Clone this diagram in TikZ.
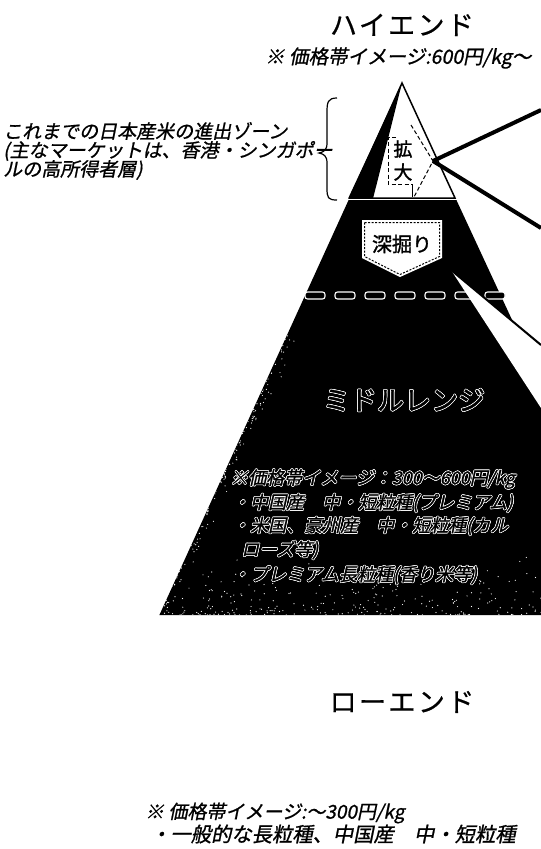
\documentclass[tikz,border=0pt]{standalone}
\usepackage{fontspec}
\setmainfont{Noto Sans CJK JP}
\newfontfamily\jp{Noto Sans CJK JP}
\newfontfamily\jpt[LetterSpace=9,FakeBold=0.6]{Noto Sans CJK JP}
\newfontfamily\jpit[FakeSlant=0.2,FakeBold=1.0]{Noto Sans CJK JP}
\newfontfamily\jpbi[FakeSlant=0.22,FakeBold=1.4]{Noto Sans CJK JP}
\newfontfamily\jpb[FakeBold=1.4]{Noto Sans CJK JP}
\newcommand\olx[1]{%
 \makebox[0pt][l]{\color{white}\raisebox{0.7pt}{#1}}%
 \makebox[0pt][l]{\color{white}\raisebox{-0.7pt}{#1}}%
 \makebox[0pt][l]{\color{white}\hspace*{0.7pt}#1}%
 \makebox[0pt][l]{\color{white}\hspace*{-0.7pt}#1}%
 \makebox[0pt][l]{\color{white}\hspace*{0.5pt}\raisebox{0.5pt}{#1}}%
 \makebox[0pt][l]{\color{white}\hspace*{-0.5pt}\raisebox{0.5pt}{#1}}%
 \makebox[0pt][l]{\color{white}\hspace*{0.5pt}\raisebox{-0.5pt}{#1}}%
 \makebox[0pt][l]{\color{white}\hspace*{-0.5pt}\raisebox{-0.5pt}{#1}}%
 {\color{black}#1}}
\tikzset{
 title/.style={font=\jpt\fontsize{27}{27}\selectfont, inner sep=0pt},
 note/.style={font=\jpit\fontsize{19}{19}\selectfont, inner sep=0pt, anchor=west},
 mid/.style={font=\jpbi\fontsize{18}{18}\selectfont, inner sep=0pt, anchor=west},
 callout/.style={line width=4pt},
 dashbox/.style={draw=white, fill=black, rounded corners=2.5pt, line width=1.1pt},
 thindash/.style={dash pattern=on 4pt off 2.5pt, line width=1pt},
 boxchar/.style={font=\jpb\fontsize{19}{19}\selectfont, inner sep=0pt},
}
\begin{document}
\begin{tikzpicture}[x=1pt,y=-1pt]
\useasboundingbox[fill=white] (0,0) rectangle (541,849);
\clip (0,0) rectangle (541,849);

% titles and notes
\node[title] (hi) at (402,25) {ハイエンド};
\node[note, font=\jpit\fontsize{19.5}{19.5}\selectfont] (hinote) at (265,58) {※ 価格帯イメージ:600円/kg〜};
\node[note] (l1) at (3,131) {これまでの日本産米の進出ゾーン};
\node[note] (l2) at (3,151) {(主なマーケットは、香港・シンガポー};
\node[note] (l3) at (3,170) {ルの高所得者層)};

% brace
\draw[line width=1.2pt] (337,98) .. controls (328,98) and (327,102) .. (327,112) -- (327,143)
  .. controls (327,150) and (324,152) .. (319,153) .. controls (324,154) and (327,156) .. (327,163)
  -- (327,188) .. controls (327,198) and (328,200) .. (337,200);

% lower trapezoid (middle range)
\fill[black] (348.6,200) -- (456.4,200) -- (649,615) -- (159.4,615) -- cycle;
\begin{scope}
\clip (348.6,200) -- (456.4,200) -- (649,615) -- (159.4,615) -- cycle;
\pgfmathsetseed{11}
\foreach \k in {1,...,260}{
  \pgfmathsetmacro\yy{615-60*rnd*rnd}
  \pgfmathsetmacro\xx{155+390*rnd}
  \fill[white] (\xx,\yy) circle (0.6);
}
\foreach \k in {1,...,120}{
  \pgfmathsetmacro\yy{330+285*rnd}
  \pgfmathsetmacro\xx{402-0.456*(\yy-83)+14*rnd*rnd}
  \fill[white] (\xx,\yy) circle (0.6);
}
\end{scope}

% top triangle (high end)
\path[fill=white, draw=black, line width=1.5pt, line join=miter] (402,83) -- (455,198) -- (350,198) -- cycle;
\fill[black] (402,83) -- (348,198.7) -- (373,198.7) -- cycle;

% dashed enlargement outline
\draw[thindash] (411,125) -- (433,161) -- (414,197);
\draw[thindash] (396,137) -- (388,137) -- (388,184) -- (412,184);
\draw[line width=1pt] (412,184) -- (412,197);
\node[boxchar] (ka) at (403,149) {拡};
\node[boxchar] (dai) at (403,172) {大};

% callout lines from enlargement
\coordinate (P) at (433,161);
\coordinate (E1) at (541,110);
\coordinate (E2) at (541,228);
\draw[callout] (P) -- (E1);
\draw[callout] (P) -- (E2);

% dashed separator
\foreach \i in {0,...,6}
  \path[dashbox] ({305+30*\i},292) rectangle ++(20,7);

% deepen callout wedge
\coordinate (T) at (451,270);
\coordinate (W1) at (541,345);
\coordinate (W2) at (541,408);
\fill[white] (T) -- (W1) -- (W2) -- cycle;
\draw[line width=2pt] (T) -- (W1);

% deepen box
\path[fill=white] (362,220) -- (442,220) -- (442,258) -- (400,277) -- (362,258) -- cycle;
\draw[black, dash pattern=on 2pt off 1.5pt, line width=1pt] (364.5,222.5) -- (439.5,222.5) -- (439.5,256.5) -- (400,274.5) -- (364.5,256.5) -- cycle;
\node[font=\jpb\fontsize{20}{20}\selectfont, inner sep=0pt] (fuka) at (402,244) {深掘り};

% middle range texts
\node[font=\jpb\fontsize{27}{27}\selectfont, inner sep=0pt] (midt) at (404,400) {\olx{ミドルレンジ}};
\node[mid] (m1) at (230,479) {\olx{※価格帯イメージ：300〜600円/kg}};
\node[mid] (m2) at (232,503) {\olx{・中国産　中・短粒種(プレミアム)}};
\node[mid] (m3) at (232,526) {\olx{・米国、豪州産　中・短粒種(カル}};
\node[mid] (m4) at (241,550) {\olx{ローズ等)}};
\node[mid] (m5) at (232,575) {\olx{・プレミアム長粒種(香り米等)}};

% low end
\node[title] (lo) at (402,702) {ローエンド};
\node[note] (lonote) at (145,813) {※ 価格帯イメージ:〜300円/kg};
\node[note, font=\jpit\fontsize{20.3}{20.3}\selectfont] (lob) at (150,834) {・一般的な長粒種、中国産　中・短粒種};
\end{tikzpicture}
\end{document}
